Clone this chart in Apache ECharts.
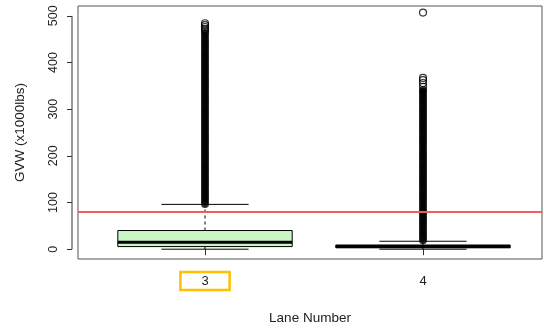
<!DOCTYPE html>
<html>
<head>
<meta charset="utf-8">
<script src="https://cdn.jsdelivr.net/npm/echarts@6/dist/echarts.min.js"></script>
<style>html,body{margin:0;padding:0;background:#fff}#c{width:544px;height:329px}</style>
</head>
<body>
<div id="c"></div>
<script>
// ---- data ----
const categories = ['3', '4'];
const whiskerLow = [0, 0];
const q1 = [5.6, 3];
const median = [15, 6];
const q3 = [40, 9];
const whiskerHigh = [96, 17];
const outliersDense3 = [97,103,109,115,121,127,133,139,145,151,157,163,169,175,181,187,193,199,205,211,217,223,229,235,241,247,253,259,265,271,277,283,289,295,301,307,313,319,325,331,337,343,349,355,361,367,373,379,385,391,397,403,409,415,421,427,433,439,445,451,457,463];
const outliersSparse3 = [468, 472, 476, 480, 484, 525];
const outliersDense4 = [19,25,31,37,43,49,55,61,67,73,79,85,91,97,103,109,115,121,127,133,139,145,151,157,163,169,175,181,187,193,199,205,211,217,223,229,235,241,247,253,259,265,271,277,283,289,295,301,307,313,319,325,331,337,341];
const outliersSparse4 = [348, 356, 362, 367, 507];
const refLine = 80;
const yTicks = [0, 100, 200, 300, 400, 500];
const xTitle = 'Lane Number';
const yTitle = 'GVW (x1000lbs)';

// ---- build ----
const xMin = 0.4174, xMax = 2.5459;
const boxData = categories.map((c, i) => [i + 1, whiskerLow[i], q1[i], median[i], q3[i], whiskerHigh[i]]);
const dense = [].concat(
  outliersDense3.map(v => [1, v]),
  outliersDense4.map(v => [2, v])
);
const sparse = [].concat(
  outliersSparse3.map(v => [1, v]),
  outliersSparse4.map(v => [2, v])
);

const chart = echarts.init(document.getElementById('c'), null, {renderer: 'canvas'});
const font = 'Liberation Sans, Arial, Helvetica, sans-serif';
const txt = '#222';

function renderBox(params, api) {
  const x = api.value(0);
  const lo = api.coord([x, api.value(1)]);
  const b1 = api.coord([x, api.value(2)]);
  const md = api.coord([x, api.value(3)]);
  const b3 = api.coord([x, api.value(4)]);
  const hi = api.coord([x, api.value(5)]);
  const bw = api.size([0.8, 0])[0];
  const sw = api.size([0.4, 0])[0];
  const cx = lo[0];
  const ls = {stroke: '#000', lineWidth: 1};
  return {
    type: 'group',
    children: [
      {type: 'line', shape: {x1: cx, y1: b3[1], x2: cx, y2: hi[1]}, style: {stroke: '#000', lineWidth: 1, lineDash: [3, 3]}},
      {type: 'line', shape: {x1: cx, y1: b1[1], x2: cx, y2: lo[1]}, style: {stroke: '#000', lineWidth: 1, lineDash: [3, 3]}},
      {type: 'line', shape: {x1: cx - sw / 2, y1: hi[1], x2: cx + sw / 2, y2: hi[1]}, style: ls},
      {type: 'line', shape: {x1: cx - sw / 2, y1: lo[1], x2: cx + sw / 2, y2: lo[1]}, style: ls},
      {type: 'rect', shape: {x: cx - bw / 2, y: b3[1], width: bw, height: b1[1] - b3[1]}, style: {fill: '#C8F7C5', stroke: '#000', lineWidth: 1}},
      {type: 'line', shape: {x1: cx - bw / 2, y1: md[1], x2: cx + bw / 2, y2: md[1]}, style: {stroke: '#000', lineWidth: 3}}
    ]
  };
}

function renderYAxisLine(params, api) {
  const a = api.coord([xMin, api.value(0)]);
  const b = api.coord([xMin, api.value(1)]);
  const x = a[0] - 6;
  return {type: 'line', shape: {x1: x, y1: a[1], x2: x, y2: b[1]}, style: {stroke: '#333', lineWidth: 1}};
}

chart.setOption({
  animation: false,
  backgroundColor: '#fff',
  grid: {left: 78, right: 2, top: 6, bottom: 70, outerBoundsMode: 'none', containLabel: false, show: true, borderColor: '#555', borderWidth: 1, backgroundColor: 'transparent'},
  xAxis: {
    type: 'value', min: xMin, max: xMax,
    name: xTitle, nameLocation: 'middle', nameGap: 52,
    nameTextStyle: {fontFamily: font, fontSize: 13.5, color: txt},
    axisLine: {show: false},
    splitLine: {show: false},
    axisTick: {show: true, customValues: [1, 2], length: 6, lineStyle: {color: '#333'}},
    axisLabel: {
      customValues: [1, 2], margin: 15, fontFamily: font, fontSize: 13, color: txt,
      formatter: v => {
        const c = categories[Math.round(v) - 1];
        return Math.round(v) === 1 ? '{hl|' + c + '}' : '{n|' + c + '}';
      },
      rich: {
        hl: {fontFamily: font, fontSize: 13, color: txt, lineHeight: 14, padding: [3, 21, 2, 21], borderColor: '#FFC000', borderWidth: 2.5},
        n: {fontFamily: font, fontSize: 13, color: txt, lineHeight: 14, padding: [3, 21, 2, 21]}
      }
    }
  },
  yAxis: {
    type: 'value', min: -21, max: 521, offset: 6,
    name: yTitle, nameLocation: 'middle', nameGap: 45, nameRotate: 90,
    nameTextStyle: {fontFamily: font, fontSize: 13.5, color: txt},
    axisLine: {show: false},
    splitLine: {show: false},
    axisTick: {show: true, customValues: yTicks, length: 5, lineStyle: {color: '#333'}},
    axisLabel: {customValues: yTicks, rotate: 90, margin: 12, fontFamily: font, fontSize: 12.5, color: txt}
  },
  series: [
    {
      type: 'custom', renderItem: renderYAxisLine, clip: false, silent: true,
      data: [[yTicks[0], yTicks[yTicks.length - 1]]], encode: {y: [0, 1]}
    },
    {
      type: 'custom', renderItem: renderBox, data: boxData, clip: true,
      encode: {x: 0, y: [1, 2, 3, 4, 5]},
      markLine: {
        silent: true, symbol: 'none', label: {show: false},
        lineStyle: {color: '#F65B5B', width: 2, type: 'solid'},
        data: [{yAxis: refLine}]
      }
    },
    {
      type: 'scatter', data: dense, symbol: 'circle', symbolSize: 8, clip: true,
      itemStyle: {color: '#000'}
    },
    {
      type: 'scatter', data: sparse, symbol: 'circle', symbolSize: 7, clip: true,
      itemStyle: {color: 'rgba(0,0,0,0)', borderColor: '#000', borderWidth: 1.2}
    }
  ]
});
</script>
</body>
</html>
